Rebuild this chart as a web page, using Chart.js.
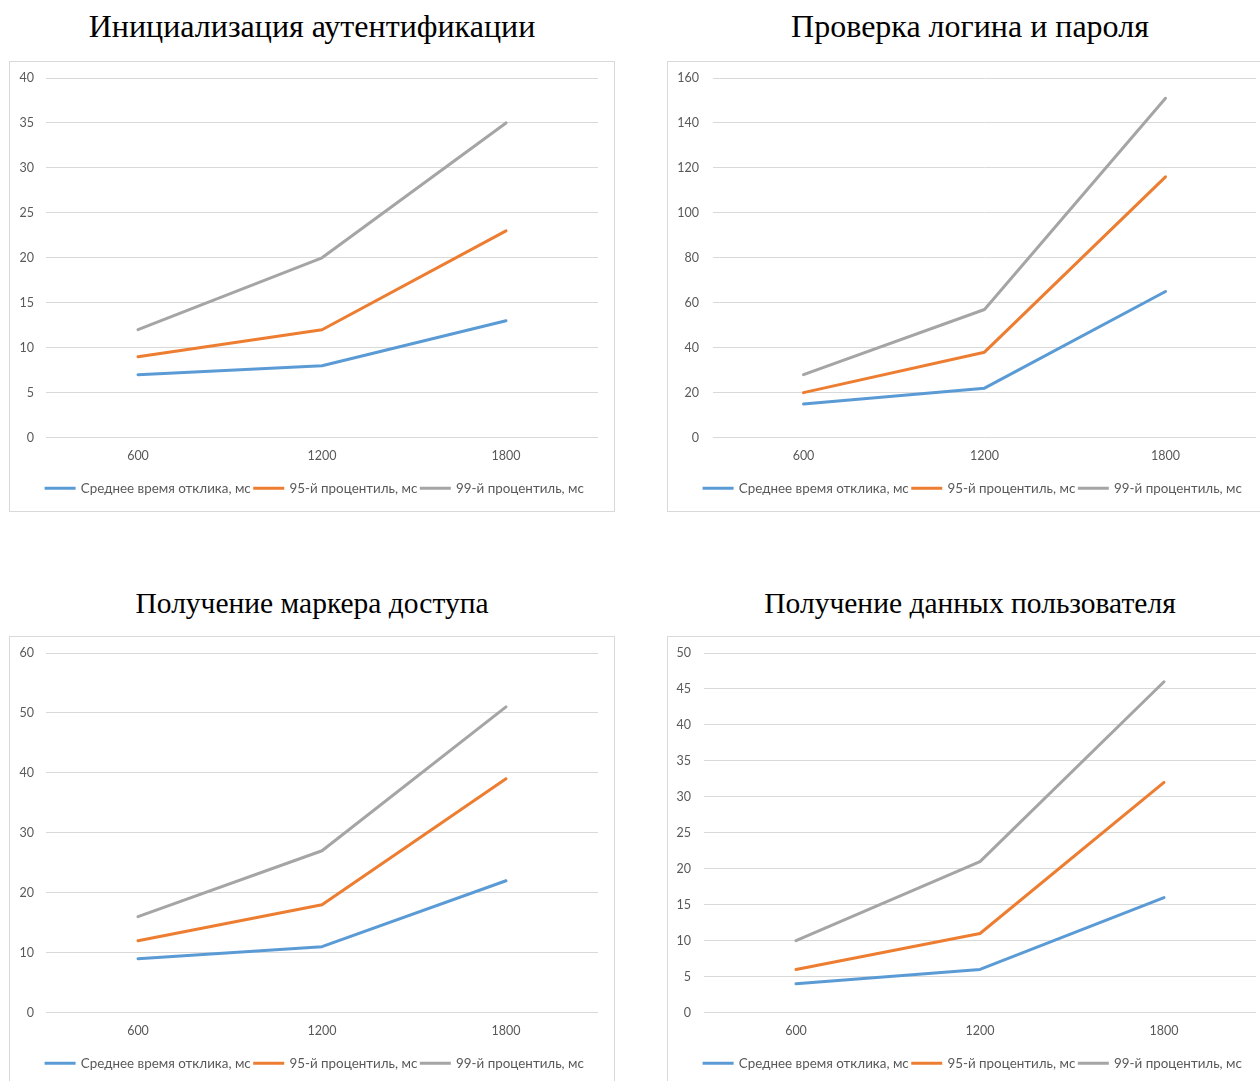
<!DOCTYPE html>
<html lang="ru">
<head>
<meta charset="utf-8">
<title>Время отклика по этапам</title>
<script src="https://cdn.jsdelivr.net/npm/chart.js@4.4.1/dist/chart.umd.min.js"></script>
<style>
  html, body { margin: 0; padding: 0; background: #fff; }
  body { width: 1260px; height: 1081px; overflow: hidden; position: relative; }
  .title {
    position: absolute; width: 606px; text-align: center;
    font-family: "Liberation Serif", "Times New Roman", serif;
    font-size: 32px; line-height: 36px; color: #000; white-space: nowrap;
  }
  .title.small { font-size: 29.5px; }
  .box {
    position: absolute; width: 606px; height: 451px; box-sizing: border-box;
    border: 1px solid #d9d9d9; background: #fff;
  }
  .box canvas { display: block; }
</style>
</head>
<body>

<div class="title" style="left:9px; top:8px;">Инициализация аутентификации</div>
<div class="box" style="left:9px; top:61px;"><canvas id="c1" width="604" height="449"></canvas></div>

<div class="title" style="left:667px; top:8px;">Проверка логина и пароля</div>
<div class="box" style="left:667px; top:61px;"><canvas id="c2" width="604" height="449"></canvas></div>

<div class="title small" style="left:9px; top:585px;">Получение маркера доступа</div>
<div class="box" style="left:9px; top:636px;"><canvas id="c3" width="604" height="449"></canvas></div>

<div class="title small" style="left:667px; top:585px;">Получение данных пользователя</div>
<div class="box" style="left:667px; top:636px;"><canvas id="c4" width="604" height="449"></canvas></div>

<script>
// Нагрузка (запросов) по оси X
const loadLevels = ['600', '1200', '1800'];

// Названия рядов
const seriesNames = ['Среднее время отклика, мс', '95-й процентиль, мс', '99-й процентиль, мс'];

// Инициализация аутентификации
const initAvg = [7, 8, 13];
const initP95 = [9, 12, 23];
const initP99 = [12, 20, 35];

// Проверка логина и пароля
const loginAvg = [15, 22, 65];
const loginP95 = [20, 38, 116];
const loginP99 = [28, 57, 151];

// Получение маркера доступа
const tokenAvg = [9, 11, 22];
const tokenP95 = [12, 18, 39];
const tokenP99 = [16, 27, 51];

// Получение данных пользователя
const userAvg = [4, 6, 16];
const userP95 = [6, 11, 32];
const userP99 = [10, 21, 46];

// Шкалы Y: максимум и шаг делений
const initScale = [40, 5];
const loginScale = [160, 20];
const tokenScale = [60, 10];
const userScale = [50, 5];

const seriesColors = ['#5b9bd5', '#ed7d31', '#a5a5a5'];
const textColor = '#595959';
const uiFont = 'Lato, "Noto Sans", "DejaVu Sans", sans-serif';

function buildChart(canvasId, series, scale, yAxisWidth, yLabelGap) {
  const datasets = series.map((values, i) => ({
    label: seriesNames[i],
    data: values,
    borderColor: seriesColors[i],
    backgroundColor: seriesColors[i],
    borderWidth: 3,
    borderCapStyle: 'round',
    borderJoinStyle: 'round',
    tension: 0,
    pointRadius: 0,
    pointHoverRadius: 0,
    fill: false
  }));

  return new Chart(document.getElementById(canvasId), {
    type: 'line',
    data: { labels: loadLevels, datasets },
    options: {
      responsive: false,
      animation: false,
      devicePixelRatio: 1,
      layout: { padding: { left: 6, right: 0, top: 16, bottom: 6 } },
      plugins: {
        tooltip: { enabled: false },
        title: { display: false },
        legend: {
          position: 'bottom',
          align: 'center',
          labels: {
            color: textColor,
            font: { family: uiFont, size: 13.4 },
            boxWidth: 28,
            boxHeight: 0.01,
            padding: 4,
            generateLabels(chart) {
              // legend key drawn as a short thick line in the series colour
              return Chart.defaults.plugins.legend.labels.generateLabels(chart).map(item => {
                item.lineWidth = 3;
                item.lineCap = 'butt';
                item.lineJoin = 'miter';
                item.strokeStyle = seriesColors[item.datasetIndex];
                item.fillStyle = seriesColors[item.datasetIndex];
                return item;
              });
            }
          }
        }
      },
      scales: {
        x: {
          type: 'category',
          offset: true,
          grid: { display: false, drawTicks: false },
          border: { display: false },
          ticks: {
            color: textColor,
            font: { family: uiFont, size: 12.5 },
            padding: 11,
            maxRotation: 0
          },
          afterFit(s) {
            s.height = 40;
            s.paddingLeft = 0;
            s.paddingRight = 16;
          }
        },
        y: {
          min: 0,
          max: scale[0],
          grid: { color: '#d9d9d9', lineWidth: 1, drawTicks: false },
          border: { display: false },
          ticks: {
            stepSize: scale[1],
            color: textColor,
            font: { family: uiFont, size: 12.5 },
            padding: yLabelGap
          },
          afterFit(s) {
            s.width = yAxisWidth;
            s.paddingTop = 0;
            s.paddingBottom = 0;
          }
        }
      }
    }
  });
}

buildChart('c1', [initAvg, initP95, initP99], initScale, 30, 12);
buildChart('c2', [loginAvg, loginP95, loginP99], loginScale, 39, 14);
buildChart('c3', [tokenAvg, tokenP95, tokenP99], tokenScale, 30, 12);
buildChart('c4', [userAvg, userP95, userP99], userScale, 30, 13);
</script>
</body>
</html>
